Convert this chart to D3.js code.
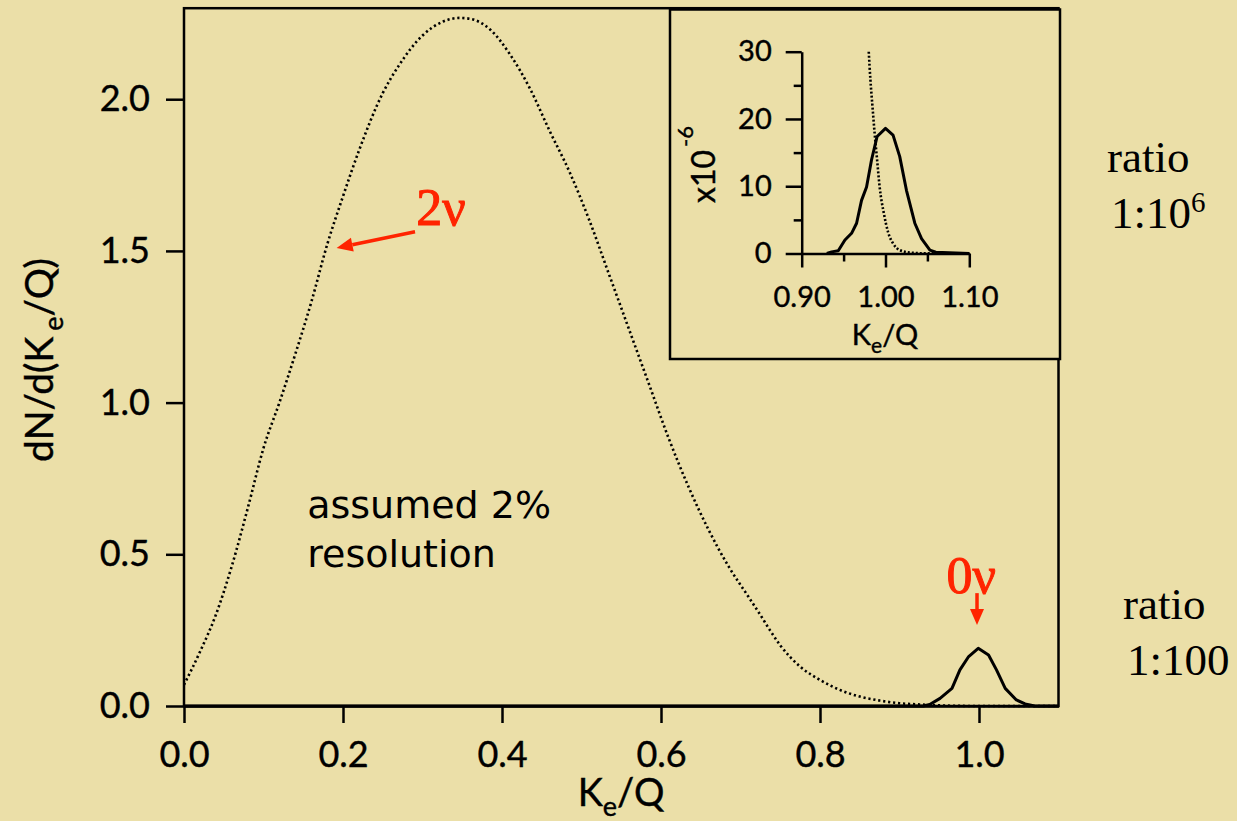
<!DOCTYPE html>
<html>
<head>
<meta charset="utf-8">
<script src="https://cdn.jsdelivr.net/npm/d3@7"></script>
<style>
  body { margin: 0; background: #ebdfa8; }
  svg { display: block; }
</style>
</head>
<body>
<script>
const width = 1237;
const height = 821;

// 2nu spectrum (dotted)
const twoNuK = [0, 0.02, 0.04, 0.06, 0.08, 0.10, 0.12, 0.14, 0.16, 0.18, 0.20, 0.22, 0.25, 0.27, 0.30, 0.325,
  0.347, 0.36, 0.385, 0.41, 0.435, 0.46, 0.485, 0.51, 0.535, 0.56, 0.585, 0.61, 0.635, 0.66, 0.685, 0.71,
  0.725, 0.737, 0.75, 0.775, 0.80, 0.825, 0.85, 0.875, 0.90, 0.925, 0.95, 1.0, 1.1];
const twoNuRate = [0.07, 0.178, 0.30, 0.46, 0.65, 0.85, 1.0, 1.16, 1.33, 1.52, 1.68, 1.83, 2.02, 2.11, 2.21, 2.255,
  2.268, 2.265, 2.23, 2.148, 2.036, 1.895, 1.76, 1.6, 1.42, 1.24, 1.06, 0.88, 0.72, 0.58, 0.46, 0.36,
  0.30, 0.25, 0.20, 0.13, 0.086, 0.053, 0.031, 0.018, 0.009, 0.005, 0.002, 0, 0];

// 0nu peak (solid), main panel
const zeroNuK = [0, 0.93, 0.938, 0.951, 0.966, 0.976, 0.987, 0.999, 1.012, 1.022, 1.033, 1.047, 1.058, 1.07, 1.1];
const zeroNuRate = [0, 0, 0.005, 0.025, 0.058, 0.119, 0.163, 0.19, 0.168, 0.119, 0.058, 0.02, 0.007, 0, 0];

// inset, units of 1e-6
const insetSolidK = [0.93, 0.9357, 0.9436, 0.9516, 0.9595, 0.9655, 0.9714, 0.9774, 0.9833, 0.99, 1.0,
  1.009, 1.017, 1.025, 1.035, 1.043, 1.053, 1.06, 1.10];
const insetSolidRate = [0, 0.24, 0.4, 2.0, 3.0, 4.5, 7.9, 9.9, 13.9, 17.4, 18.6,
  17.6, 14.4, 9.4, 4.5, 2.2, 0.5, 0.2, 0];
const insetDotK = [0.98, 0.982, 0.9845, 0.987, 0.99, 0.993, 0.998, 1.003, 1.009, 1.017, 1.029, 1.05, 1.10];
const insetDotRate = [30, 25.8, 21.8, 17.9, 13.9, 9.9, 6.0, 3.2, 1.5, 0.5, 0.15, 0.02, 0];

const mainXTicks = [0, 0.2, 0.4, 0.6, 0.8, 1.0];
const mainYTicks = [0, 0.5, 1.0, 1.5, 2.0];
const insetXTicks = [0.90, 1.00, 1.10];
const insetXMinor = [0.95, 1.05];
const insetYTicks = [0, 10, 20, 30];
const insetYMinor = [5, 15, 25];

const red = '#ff2400';
const tickFont = 'Lato, "DejaVu Sans", sans-serif';
const serif = '"Liberation Serif", "Times New Roman", serif';

const x = d3.scaleLinear().domain([0, 1.1]).range([184, 1058.5]);
const y = d3.scaleLinear().domain([0, 2.3]).range([706, 8.2]);

const ix = d3.scaleLinear().domain([0.9, 1.1]).range([801.7, 969.3]);
const iy = d3.scaleLinear().domain([0, 30]).range([253.5, 51.7]);

const svg = d3.select('body').append('svg')
  .attr('width', width)
  .attr('height', height);

svg.append('rect')
  .attr('width', width).attr('height', height)
  .attr('fill', '#ebdfa8');

function styleAxis(g, size) {
  g.attr('font-family', tickFont).attr('font-size', size);
  g.selectAll('line').attr('stroke', '#000').attr('stroke-width', 2.5);
  g.selectAll('path').attr('stroke', '#000').attr('stroke-width', 2.5);
  g.selectAll('text').attr('fill', '#000')
    .attr('stroke', '#000').attr('stroke-width', 0.4);
}

// main axes
const gx = svg.append('g')
  .attr('transform', `translate(0, ${y(0)})`)
  .call(d3.axisBottom(x).tickValues(mainXTicks).tickSize(17).tickPadding(18)
    .tickFormat(d3.format('.1f')).tickSizeOuter(0));
styleAxis(gx, 36);

const gy = svg.append('g')
  .attr('transform', `translate(${x(0)}, 0)`)
  .call(d3.axisLeft(y).tickValues(mainYTicks).tickSize(18).tickPadding(16)
    .tickFormat(d3.format('.1f')).tickSizeOuter(0));
styleAxis(gy, 36);
gy.select('.domain').remove();

// curves
const line = (xs, ys, sx, sy, curve) => d3.line()
  .x((d, i) => sx(xs[i]))
  .y((d, i) => sy(ys[i]))
  .curve(curve)(xs);

svg.append('path')
  .attr('d', line(twoNuK, twoNuRate, x, y, d3.curveMonotoneX))
  .attr('fill', 'none')
  .attr('stroke', '#000')
  .attr('stroke-width', 2.6)
  .attr('stroke-dasharray', '2.2,2.8');

svg.append('path')
  .attr('d', line(zeroNuK, zeroNuRate, x, y, d3.curveLinear))
  .attr('fill', 'none')
  .attr('stroke', '#000')
  .attr('stroke-width', 3)
  .attr('stroke-linejoin', 'round');

// frame
svg.append('rect')
  .attr('x', x(0)).attr('y', y(2.3))
  .attr('width', x(1.1) - x(0)).attr('height', y(0) - y(2.3))
  .attr('fill', 'none').attr('stroke', '#000').attr('stroke-width', 2.5);

// axis titles
const xt = svg.append('text')
  .attr('x', 621).attr('y', 806)
  .attr('text-anchor', 'middle')
  .attr('font-family', tickFont).attr('font-size', 38)
  .attr('stroke', '#000').attr('stroke-width', 0.4);
xt.append('tspan').text('K');
xt.append('tspan').attr('font-size', 27).attr('dy', 10).text('e');
xt.append('tspan').attr('dy', -10).text('/Q');

const yt = svg.append('text')
  .attr('transform', 'translate(53, 360) rotate(-90)')
  .attr('text-anchor', 'middle')
  .attr('font-family', tickFont).attr('font-size', 39)
  .attr('stroke', '#000').attr('stroke-width', 0.4);
yt.append('tspan').text('dN/d(K');
yt.append('tspan').attr('font-size', 27).attr('dx', 6).attr('dy', 10).text('e');
yt.append('tspan').attr('dy', -10).text('/Q)');

// annotations
function arrow(x1, y1, x2, y2) {
  const a = Math.atan2(y2 - y1, x2 - x1);
  const len = 16, hw = 7;
  const bx = x2 - len * Math.cos(a), by = y2 - len * Math.sin(a);
  svg.append('line')
    .attr('x1', x1).attr('y1', y1).attr('x2', bx).attr('y2', by)
    .attr('stroke', red).attr('stroke-width', 3.5);
  svg.append('polygon')
    .attr('points', [
      [x2, y2],
      [bx + hw * Math.sin(a), by - hw * Math.cos(a)],
      [bx - hw * Math.sin(a), by + hw * Math.cos(a)]
    ].map(p => p.join(',')).join(' '))
    .attr('fill', red);
}

svg.append('text')
  .attr('x', x(0.292)).attr('y', y(1.585))
  .attr('font-family', serif)
  .attr('font-size', 52).attr('fill', red)
  .attr('stroke', red).attr('stroke-width', 1)
  .text('2ν');
arrow(x(0.2906), y(1.563), x(0.192), y(1.51));

svg.append('text')
  .attr('x', x(0.959)).attr('y', y(0.372))
  .attr('font-family', serif)
  .attr('font-size', 52).attr('fill', red)
  .attr('stroke', red).attr('stroke-width', 1)
  .text('0ν');
arrow(x(0.9975), y(0.372), x(0.9975), y(0.267));

const note = svg.append('g')
  .attr('font-family', '"Comic Sans MS", "DejaVu Sans", sans-serif')
  .attr('font-size', 38);
note.append('text').attr('x', x(0.155)).attr('y', y(0.621)).text('assumed 2%');
note.append('text').attr('x', x(0.155)).attr('y', y(0.457)).text('resolution');

svg.append('text').attr('x', 1107).attr('y', 172)
  .attr('font-family', serif).attr('font-size', 45).text('ratio');
const r1 = svg.append('text').attr('x', 1111).attr('y', 228)
  .attr('font-family', serif).attr('font-size', 45);
r1.append('tspan').text('1:10');
r1.append('tspan').attr('font-size', 29).attr('dy', -16).text('6');

svg.append('text').attr('x', 1123).attr('y', 619)
  .attr('font-family', serif).attr('font-size', 45).text('ratio');
svg.append('text').attr('x', 1127).attr('y', 675)
  .attr('font-family', serif).attr('font-size', 45).text('1:100');

// inset
svg.append('rect')
  .attr('x', 670).attr('y', 9.5)
  .attr('width', 390).attr('height', 349.5)
  .attr('fill', '#ebdfa8').attr('stroke', '#000').attr('stroke-width', 2.5);

const igy = svg.append('g')
  .attr('transform', `translate(${ix(0.9)}, 0)`)
  .call(d3.axisLeft(iy).tickValues(insetYTicks).tickSize(16).tickPadding(14)
    .tickFormat(d3.format('d')).tickSizeOuter(0));
styleAxis(igy, 29);
const igym = svg.append('g')
  .attr('transform', `translate(${ix(0.9)}, 0)`)
  .call(d3.axisLeft(iy).tickValues(insetYMinor).tickSize(8).tickFormat(''));
styleAxis(igym, 29);
igym.select('.domain').remove();

const igx = svg.append('g')
  .attr('transform', `translate(0, ${iy(0)})`)
  .call(d3.axisBottom(ix).tickValues(insetXTicks).tickSize(14).tickPadding(19)
    .tickFormat(d3.format('.2f')).tickSizeOuter(0));
styleAxis(igx, 29);
const igxm = svg.append('g')
  .attr('transform', `translate(0, ${iy(0)})`)
  .call(d3.axisBottom(ix).tickValues(insetXMinor).tickSize(8).tickFormat(''));
styleAxis(igxm, 29);
igxm.select('.domain').remove();

svg.append('path')
  .attr('d', line(insetDotK, insetDotRate, ix, iy, d3.curveMonotoneX))
  .attr('fill', 'none')
  .attr('stroke', '#000')
  .attr('stroke-width', 2.6)
  .attr('stroke-dasharray', '2,2');

svg.append('path')
  .attr('d', line(insetSolidK, insetSolidRate, ix, iy, d3.curveLinear))
  .attr('fill', 'none')
  .attr('stroke', '#000')
  .attr('stroke-width', 3)
  .attr('stroke-linejoin', 'round');

const ixt = svg.append('text')
  .attr('x', 885).attr('y', 345)
  .attr('text-anchor', 'middle')
  .attr('font-family', tickFont).attr('font-size', 29)
  .attr('stroke', '#000').attr('stroke-width', 0.4);
ixt.append('tspan').text('K');
ixt.append('tspan').attr('font-size', 21).attr('dy', 8).text('e');
ixt.append('tspan').attr('dy', -8).text('/Q');

const iyt = svg.append('text')
  .attr('transform', 'translate(715, 203) rotate(-90)')
  .attr('font-family', tickFont).attr('font-size', 32)
  .attr('stroke', '#000').attr('stroke-width', 0.4);
iyt.append('tspan').text('x10');
iyt.append('tspan').attr('font-size', 22).attr('dx', 3).attr('dy', -22).text('-6');
</script>
</body>
</html>
